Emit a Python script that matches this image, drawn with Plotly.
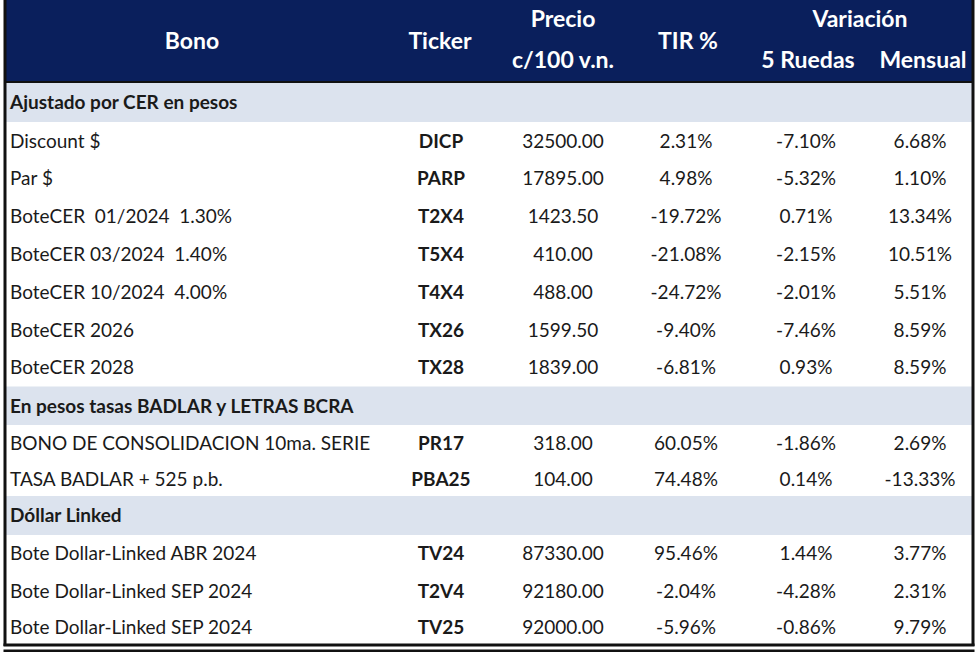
import plotly.graph_objects as go

# ---------------- data ----------------
sections = ["Ajustado por CER en pesos", "En pesos tasas BADLAR y LETRAS BCRA", "Dóllar Linked"]
bonos = [
    ["Discount $", "Par $", "BoteCER  01/2024  1.30%", "BoteCER 03/2024  1.40%",
     "BoteCER 10/2024  4.00%", "BoteCER 2026", "BoteCER 2028"],
    ["BONO DE CONSOLIDACION 10ma. SERIE", "TASA BADLAR + 525 p.b."],
    ["Bote Dollar-Linked ABR 2024", "Bote Dollar-Linked SEP 2024", "Bote Dollar-Linked SEP 2024"],
]
tickers = [
    ["DICP", "PARP", "T2X4", "T5X4", "T4X4", "TX26", "TX28"],
    ["PR17", "PBA25"],
    ["TV24", "T2V4", "TV25"],
]
precio = [
    [32500.00, 17895.00, 1423.50, 410.00, 488.00, 1599.50, 1839.00],
    [318.00, 104.00],
    [87330.00, 92180.00, 92000.00],
]
tir = [
    [2.31, 4.98, -19.72, -21.08, -24.72, -9.40, -6.81],
    [60.05, 74.48],
    [95.46, -2.04, -5.96],
]
var_5_ruedas = [
    [-7.10, -5.32, 0.71, -2.15, -2.01, -7.46, 0.93],
    [-1.86, 0.14],
    [1.44, -4.28, -0.86],
]
var_mensual = [
    [6.68, 1.10, 13.34, 10.51, 5.51, 8.59, 8.59],
    [2.69, -13.33],
    [3.77, 2.31, 9.79],
]

# ---------------- layout / style ----------------
W, H = 980, 652
FONT = "Lato, Liberation Sans, sans-serif"
NAVY = "#0A1F5C"
SECTION_BG = "#DCE3EE"
TXT = "#1A1A1A"

header_h = 82
section_h = [40, 38.4, 39]
row_h = [[37.8] * 7, [37, 34], [37, 38, 35]]

col_name_x = 12
col_x = {"ticker": 441, "precio": 563, "tir": 686, "v5": 806, "vm": 920}

fig = go.Figure()
shapes = []

shapes.append(dict(type="rect", x0=5, x1=973, y0=0, y1=header_h, fillcolor=NAVY, line_width=0, layer="below"))

y = header_h
rows_y = []
rows_vals = []
sec_y = []
for s in range(len(sections)):
    shapes.append(dict(type="rect", x0=5, x1=973, y0=y, y1=y + section_h[s], fillcolor=SECTION_BG,
                       line_width=0, layer="below"))
    sec_y.append(y + section_h[s] / 2 + 2)
    y += section_h[s]
    for i, h in enumerate(row_h[s]):
        rows_y.append(y + h / 2 + 2)
        rows_vals.append((bonos[s][i], tickers[s][i], precio[s][i], tir[s][i], var_5_ruedas[s][i], var_mensual[s][i]))
        y += h
table_bottom = y

shapes.append(dict(type="line", x0=5, x1=973, y0=header_h, y1=header_h, line=dict(color="#111", width=2)))
shapes.append(dict(type="line", x0=5, x1=5, y0=0, y1=table_bottom + 1, line=dict(color="#111", width=3)))
shapes.append(dict(type="line", x0=973, x1=973, y0=0, y1=table_bottom + 1, line=dict(color="#111", width=3)))
shapes.append(dict(type="line", x0=3.5, x1=974.5, y0=table_bottom, y1=table_bottom, line=dict(color="#111", width=3)))
shapes.append(dict(type="line", x0=3.5, x1=974.5, y0=table_bottom + 6, y1=table_bottom + 6, line=dict(color="#111", width=3)))

dfont = dict(family=FONT, size=19, color=TXT)
bfont = dict(family=FONT, size=19, color=TXT, weight="bold")
hfont = dict(family=FONT, size=23, color="white", weight="bold")

fig.add_trace(go.Scatter(x=[col_name_x - 2] * len(sections), y=sec_y, text=sections, mode="text",
                         textposition="middle right", textfont=bfont, hoverinfo="skip"))
fig.add_trace(go.Scatter(x=[col_name_x - 2] * len(rows_y), y=rows_y, text=[r[0] for r in rows_vals], mode="text",
                         textposition="middle right", textfont=dfont, hoverinfo="skip"))
fig.add_trace(go.Scatter(x=[col_x["ticker"]] * len(rows_y), y=rows_y, text=[r[1] for r in rows_vals], mode="text",
                         textposition="middle center", textfont=bfont, hoverinfo="skip"))
fig.add_trace(go.Scatter(x=[col_x["precio"]] * len(rows_y), y=rows_y, text=[f"{r[2]:.2f}" for r in rows_vals],
                         mode="text", textposition="middle center", textfont=dfont, hoverinfo="skip"))
fig.add_trace(go.Scatter(x=[col_x["tir"]] * len(rows_y), y=rows_y, text=[f"{r[3]:.2f}%" for r in rows_vals],
                         mode="text", textposition="middle center", textfont=dfont, hoverinfo="skip"))
fig.add_trace(go.Scatter(x=[col_x["v5"]] * len(rows_y), y=rows_y, text=[f"{r[4]:.2f}%" for r in rows_vals],
                         mode="text", textposition="middle center", textfont=dfont, hoverinfo="skip"))
fig.add_trace(go.Scatter(x=[col_x["vm"]] * len(rows_y), y=rows_y, text=[f"{r[5]:.2f}%" for r in rows_vals],
                         mode="text", textposition="middle center", textfont=dfont, hoverinfo="skip"))

header_labels = ["Bono", "Ticker", "Precio", "c/100 v.n.", "TIR %", "Variación", "5 Ruedas", "Mensual"]
header_x = [192, 440, 563, 563, 688, 860, 808, 923]
header_y = [43, 43, 21, 62, 43, 21, 62, 62]
fig.add_trace(go.Scatter(x=header_x, y=header_y, text=header_labels, mode="text",
                         textposition="middle center", textfont=hfont, hoverinfo="skip"))

fig.update_layout(
    width=W, height=H, margin=dict(l=0, r=0, t=0, b=0),
    paper_bgcolor="white", plot_bgcolor="white", showlegend=False, shapes=shapes,
    xaxis=dict(range=[0, W], visible=False, fixedrange=True),
    yaxis=dict(range=[H, 0], visible=False, fixedrange=True),
)
fig.write_html("out.html", config={"displayModeBar": False},
               post_script="document.body.style.margin='0px';document.body.style.padding='0px';")
